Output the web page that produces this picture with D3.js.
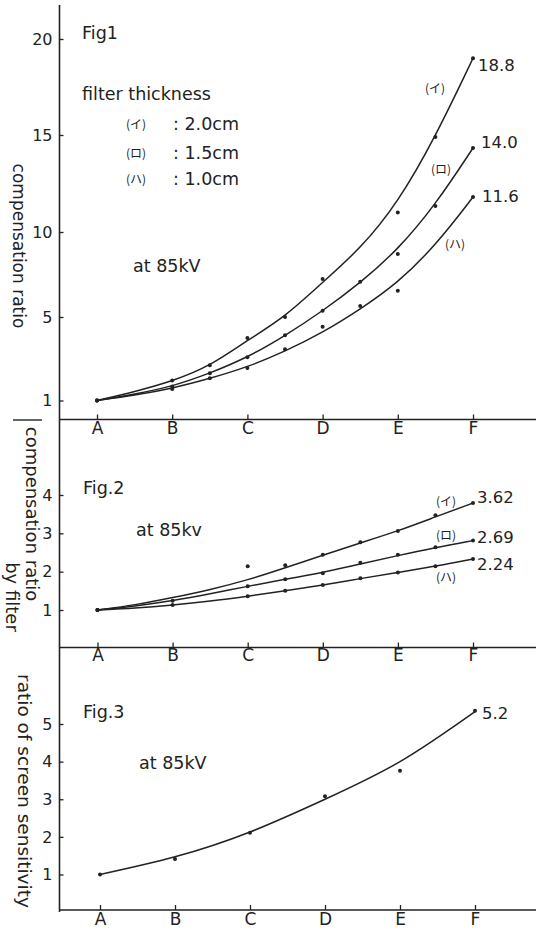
<!DOCTYPE html>
<html>
<head>
<meta charset="utf-8">
<script src="https://cdn.jsdelivr.net/npm/d3@7"></script>
<style>
  body { margin: 0; background: #fff; }
  svg text { font-family: "DejaVu Sans", sans-serif; fill: #222; }
  .jp { font-family: "Noto Sans CJK JP", sans-serif; }
</style>
</head>
<body>
<svg id="chart" width="536" height="933"></svg>
<script>
var cats = ["A", "B", "C", "D", "E", "F"];
var halfSteps = [0, 0.5, 1, 1.5, 2, 2.5, 3, 3.5, 4, 4.5, 5];

// Fig1 : compensation ratio (filter 2.0 / 1.5 / 1.0 cm)
var fig1Ticks = [1, 5, 10, 15, 20];
var fig1CurveI  = [1.0, 1.42, 1.92, 2.64, 3.89, 5.0, 7.05, 9.0, 11.5, 14.9, 19.0];
var fig1CurveRo = [1.0, 1.3, 1.67, 2.3, 3.06, 4.1, 5.35, 7.0, 8.95, 11.4, 14.33];
var fig1CurveHa = [1.0, 1.25, 1.58, 2.05, 2.6, 3.35, 4.25, 5.45, 7.0, 9.2, 11.8];
var fig1DotPosI  = [0, 1, 1.5, 2, 2.5, 3, 4, 4.5, 5];
var fig1DotI     = [1.0, 1.96, 2.69, 3.99, 5.0, 7.24, 11.0, 14.9, 19.0];
var fig1DotPosRo = [0, 1, 1.5, 2, 2.5, 3, 3.5, 4, 4.5, 5];
var fig1DotRo    = [1.0, 1.67, 2.3, 3.07, 4.13, 5.37, 7.08, 8.7, 11.34, 14.33];
var fig1DotPosHa = [0, 1, 1.5, 2, 2.5, 3, 3.5, 4, 5];
var fig1DotHa    = [1.0, 1.55, 2.06, 2.56, 3.46, 4.53, 5.65, 6.55, 11.8];
var fig1EndLabels = ["18.8", "14.0", "11.6"];

// Fig2 : compensation ratio by filter
var fig2Ticks = [1, 2, 3, 4];
var fig2CurveI  = [1.0, 1.13, 1.32, 1.53, 1.78, 2.1, 2.43, 2.75, 3.06, 3.43, 3.79];
var fig2CurveRo = [1.0, 1.1, 1.24, 1.42, 1.62, 1.8, 1.98, 2.2, 2.42, 2.63, 2.81];
var fig2CurveHa = [1.0, 1.05, 1.13, 1.23, 1.36, 1.5, 1.65, 1.82, 1.98, 2.14, 2.33];
var fig2DotPosI  = [0, 2, 2.5, 3, 3.5, 4, 4.5, 5];
var fig2DotI     = [1.0, 2.14, 2.17, 2.44, 2.77, 3.06, 3.47, 3.79];
var fig2DotPosRo = [0, 1, 2, 2.5, 3, 3.5, 4, 4.5, 5];
var fig2DotRo    = [1.0, 1.24, 1.62, 1.8, 1.96, 2.23, 2.44, 2.64, 2.81];
var fig2DotPosHa = [0, 1, 2, 2.5, 3, 3.5, 4, 4.5, 5];
var fig2DotHa    = [1.0, 1.13, 1.36, 1.5, 1.65, 1.83, 1.98, 2.14, 2.33];
var fig2EndLabels = ["3.62", "2.69", "2.24"];

// Fig3 : ratio of screen sensitivity
var fig3Ticks = [1, 2, 3, 4, 5];
var fig3CurvePos = [0, 1, 2, 3, 4, 5];
var fig3Curve    = [1.0, 1.47, 2.13, 3.0, 4.0, 5.33];
var fig3DotPos   = [0, 1, 2, 3, 4, 5];
var fig3Dot      = [1.0, 1.41, 2.11, 3.08, 3.76, 5.35];
var fig3EndLabels = ["5.2"];

var seriesMarks = ["(イ)", "(ロ)", "(ハ)"];
var thickness = ["2.0cm", "1.5cm", "1.0cm"];

var svg = d3.select("#chart");
var ink = "#222";
var axisX = 59.5;

// long vertical axis shared by the three figures
svg.append("line")
  .attr("x1", axisX).attr("x2", axisX)
  .attr("y1", 5).attr("y2", 912)
  .attr("stroke", ink).attr("stroke-width", 1.6);

function zip(xs, ys) {
  return xs.map(function(d, i) { return [d, ys[i]]; });
}

function plotPanel(o) {
  var g = svg.append("g");

  // x axis (baseline)
  var xAxis = d3.axisBottom(o.x)
    .tickValues(d3.range(cats.length))
    .tickFormat(function(i) { return cats[i]; })
    .tickSize(-5)
    .tickPadding(o.xPad);
  var gx = g.append("g")
    .attr("transform", "translate(0," + o.base + ")")
    .call(xAxis);
  gx.select(".domain").remove();
  gx.selectAll("line").attr("stroke", ink).attr("stroke-width", 1.3);
  gx.selectAll("text")
    .style("font-family", "DejaVu Sans").style("font-size", "17px").attr("fill", ink);
  g.append("line")
    .attr("x1", axisX).attr("x2", 536)
    .attr("y1", o.base).attr("y2", o.base)
    .attr("stroke", ink).attr("stroke-width", 1.6);

  // y axis ticks
  var yAxis = d3.axisLeft(o.y)
    .tickValues(o.ticks)
    .tickFormat(d3.format("d"))
    .tickSize(-4)
    .tickPadding(7);
  var gy = g.append("g")
    .attr("transform", "translate(" + axisX + ",0)")
    .call(yAxis);
  gy.select(".domain").remove();
  gy.selectAll("line").attr("stroke", ink).attr("stroke-width", 1.3);
  gy.selectAll("text")
    .style("font-family", "DejaVu Sans").style("font-size", "16px").attr("fill", ink);

  var line = d3.line()
    .x(function(d) { return o.x(d[0]); })
    .y(function(d) { return o.y(d[1]); })
    .curve(o.curve);

  o.curves.forEach(function(c) {
    g.append("path")
      .datum(c)
      .attr("d", line)
      .attr("fill", "none")
      .attr("stroke", ink)
      .attr("stroke-width", 1.5);
  });

  o.dots.forEach(function(pts) {
    g.selectAll(null)
      .data(pts)
      .enter()
      .append("circle")
      .attr("cx", function(d) { return o.x(d[0]); })
      .attr("cy", function(d) { return o.y(d[1]); })
      .attr("r", 2)
      .attr("fill", ink);
  });
  return g;
}

function label(x, y, txt, size, cls) {
  return svg.append("text")
    .attr("x", x).attr("y", y)
    .attr("class", cls || null)
    .style("font-size", size + "px")
    .text(txt);
}

function vlabel(x, y, txt, size) {
  return svg.append("text")
    .attr("transform", "translate(" + x + "," + y + ") rotate(90)")
    .attr("text-anchor", "middle")
    .attr("dy", "0.35em")
    .style("font-size", size + "px")
    .text(txt);
}

// ---- Fig1
var x1 = d3.scaleLinear().domain([0, 5]).range([97, 473]);
var y1 = d3.scaleLinear().domain([1, 5, 10, 15, 20]).range([400.5, 317, 232, 135, 39]);
plotPanel({
  x: x1, y: y1, base: 419.5, xPad: 2, ticks: fig1Ticks, curve: d3.curveBasis,
  curves: [zip(halfSteps, fig1CurveI), zip(halfSteps, fig1CurveRo), zip(halfSteps, fig1CurveHa)],
  dots: [zip(fig1DotPosI, fig1DotI), zip(fig1DotPosRo, fig1DotRo), zip(fig1DotPosHa, fig1DotHa)]
});
svg.append("line")
  .attr("x1", 13).attr("x2", 42).attr("y1", 420).attr("y2", 420)
  .attr("stroke", ink).attr("stroke-width", 1.4);

label(82, 39, "Fig1", 17.5);
label(82, 100, "filter thickness", 17.5);
[130, 159, 185].forEach(function(yy, i) {
  label(126, yy - 1, seriesMarks[i], 12, "jp");
  label(173, yy, ": " + thickness[i], 17.5);
});
label(133, 272, "at 85kV", 17.5);
label(478, 71, fig1EndLabels[0], 16.5);
label(481, 148, fig1EndLabels[1], 16.5);
label(482, 202, fig1EndLabels[2], 16.5);
label(425, 93, seriesMarks[0], 12, "jp");
label(431, 174, seriesMarks[1], 12, "jp");
label(445, 249, seriesMarks[2], 12, "jp");
vlabel(19, 246, "compensation ratio", 17);

// ---- Fig2
var x2 = d3.scaleLinear().domain([0, 5]).range([97.5, 473]);
var y2 = d3.scaleLinear().domain([1, 4]).range([610, 495]);
plotPanel({
  x: x2, y: y2, base: 647.5, xPad: 1, ticks: fig2Ticks, curve: d3.curveBasis,
  curves: [zip(halfSteps, fig2CurveI), zip(halfSteps, fig2CurveRo), zip(halfSteps, fig2CurveHa)],
  dots: [zip(fig2DotPosI, fig2DotI), zip(fig2DotPosRo, fig2DotRo), zip(fig2DotPosHa, fig2DotHa)]
});
label(83, 494, "Fig.2", 17.5);
label(136, 536, "at 85kv", 17.5);
label(477, 503, fig2EndLabels[0], 16.5);
label(477, 543, fig2EndLabels[1], 16.5);
label(477, 570, fig2EndLabels[2], 16.5);
label(436, 506, seriesMarks[0], 12, "jp");
label(436, 540, seriesMarks[1], 12, "jp");
label(436, 582, seriesMarks[2], 12, "jp");
vlabel(32, 514, "compensation ratio", 18);
vlabel(12, 597, "by filter", 18);

// ---- Fig3
var x3 = d3.scaleLinear().domain([0, 5]).range([100, 475]);
var y3 = d3.scaleLinear().domain([1, 5]).range([874.5, 724]);
plotPanel({
  x: x3, y: y3, base: 910, xPad: 3, ticks: fig3Ticks, curve: d3.curveNatural,
  curves: [zip(fig3CurvePos, fig3Curve)],
  dots: [zip(fig3DotPos, fig3Dot)]
});
label(83, 718, "Fig.3", 17.5);
label(139, 769, "at 85kV", 17.5);
label(482, 719, fig3EndLabels[0], 16.5);
vlabel(24, 791, "ratio of screen sensitivity", 18.5);
</script>
</body>
</html>
